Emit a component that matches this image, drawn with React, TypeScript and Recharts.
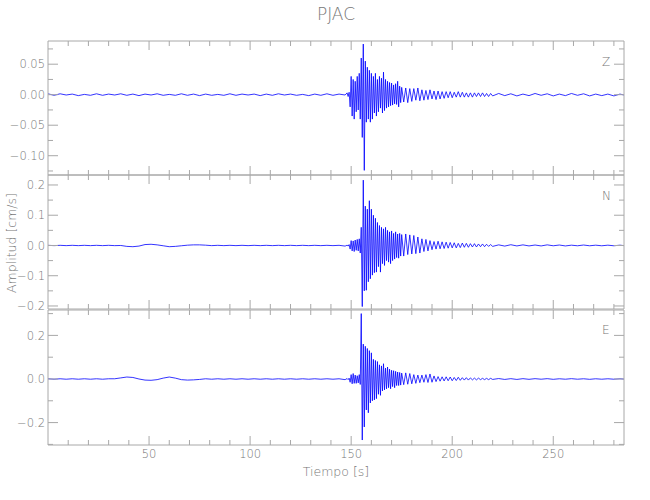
import React from "react";
import { LineChart, Line, XAxis, YAxis } from "recharts";

// sample times [s]
const tiempo = [
  0,3,6,9,12,15,18,21,24,27,30,33,36,39,42,45,48,51,54,57,60,63,66,69,72,75,78,81,84,87,90,93,96,99,102,105,108,111,114,117,120,123,126,129,132,135,138,141,144,147,
  148,148.5,149,149.5,150,150.5,151,151.5,152,152.5,153,153.5,154,154.5,155,155.5,156,156.5,157,157.5,158,158.5,159,159.5,160,160.5,161,161.5,162,162.5,163,163.5,164,164.5,165,165.5,166,166.5,167,167.5,168,168.5,169,169.5,170,170.5,171,171.5,172,172.5,173,173.5,174,174.5,175,
  176,177,178,179,180,181,182,183,184,185,186,187,188,189,190,191,192,193,194,195,196,197,198,199,200,201,202,203,204,205,206,207,208,209,210,211,212,213,214,215,216,217,218,219,220,
  223,226,229,232,235,238,241,244,247,250,253,256,259,262,265,268,271,274,277,280,283,285,
];

// Z component [cm/s]
const ampZ = [
  0.0015,-0.001,0.0015,-0.0005,0.001,-0.0015,0.0005,-0.001,0.0015,-0.001,
  0.001,-0.0005,0.0015,-0.001,0.001,-0.0015,0.001,-0.0005,0.0015,-0.001,
  0.0005,-0.001,0.0015,-0.001,0.001,-0.0015,0.001,-0.001,0.0005,-0.001,
  0.0015,-0.001,0.001,-0.0005,0.001,-0.0015,0.001,-0.001,0.0015,-0.0005,
  0.001,-0.001,0.0005,-0.0015,0.001,-0.001,0.0015,-0.001,0.001,-0.0005,
  0.003,-0.003,0.004,-0.02,0.03,-0.035,0.025,-0.04,0.022,-0.028,
  0.03,-0.025,0.035,-0.04,0.06,-0.07,0.083,-0.124,0.055,-0.045,
  0.045,-0.04,0.04,-0.045,0.035,-0.04,0.03,-0.03,0.035,-0.035,
  0.025,-0.028,0.03,-0.022,0.027,-0.03,0.037,-0.026,0.025,-0.022,
  0.022,-0.02,0.02,-0.018,0.019,-0.017,0.016,-0.015,0.018,-0.016,
  0.022,-0.02,0.014,-0.013,0.012,
  -0.012,0.011,-0.013,0.01,-0.011,0.01,-0.009,0.011,-0.01,0.008,
  -0.009,0.007,-0.008,0.008,-0.007,0.006,-0.008,0.006,-0.007,0.005,
  -0.006,0.005,-0.005,0.005,-0.005,0.004,-0.004,0.005,-0.004,0.004,
  -0.004,0.003,-0.004,0.003,-0.004,0.003,-0.003,0.003,-0.003,0.003,
  -0.003,0.002,-0.003,0.002,-0.002,
  0.002,-0.0015,0.0015,-0.002,0.001,-0.0015,0.002,-0.001,0.0015,-0.002,
  0.001,-0.0015,0.002,-0.001,0.0015,-0.002,0.001,-0.0015,0.001,-0.002,
  0.001,-0.0005,
];

// N component [cm/s]
const ampN = [
  0.0005,-0.0005,0.0005,-0.0005,0.0005,-0.0005,0.0005,-0.0005,0.0005,-0.0005,
  0.0005,-0.0005,0,-0.003,-0.004,-0.002,0.003,0.004,0.002,-0.001,
  -0.004,-0.003,-0.001,0.001,0.002,0.002,0.001,-0.0005,0.0005,-0.0005,
  0.0005,-0.0005,0.0005,-0.0005,0.0005,-0.0005,0.0005,-0.0005,0.0005,-0.0005,
  0.0005,-0.0005,0.0005,-0.0005,0.0005,-0.0005,0.0005,-0.0005,0.0005,-0.002,
  0.001,-0.002,0.003,-0.012,0.016,-0.018,0.015,-0.02,0.018,-0.016,
  0.02,-0.018,0.022,-0.025,0.06,-0.202,0.216,-0.15,0.13,-0.148,
  0.12,-0.12,0.148,-0.11,0.12,-0.098,0.1,-0.09,0.09,-0.088,
  0.076,-0.07,0.066,-0.088,0.06,-0.06,0.055,-0.066,0.06,-0.05,
  0.05,-0.055,0.045,-0.06,0.048,-0.05,0.04,-0.045,0.045,-0.04,
  0.038,-0.042,0.04,-0.035,0.036,
  -0.035,0.038,-0.03,0.035,-0.028,0.033,-0.027,0.028,-0.025,0.022,
  -0.02,0.02,-0.018,0.016,-0.014,0.013,-0.012,0.014,-0.011,0.012,
  -0.01,0.011,-0.009,0.01,-0.008,0.009,-0.008,0.007,-0.007,0.008,
  -0.006,0.007,-0.006,0.006,-0.005,0.006,-0.005,0.005,-0.004,0.005,
  -0.004,0.004,-0.003,0.003,-0.003,
  0.002,-0.002,0.0025,-0.0015,0.002,-0.0015,0.0015,-0.0015,0.002,-0.001,
  0.0015,-0.0015,0.001,-0.001,0.0015,-0.001,0.001,-0.001,0.001,-0.001,
  0.001,-0.0005,
];

// E component [cm/s]
const ampE = [
  0.001,-0.001,0.001,-0.001,0.001,-0.001,0.001,-0.001,0.001,-0.001,
  0.001,0.001,0.005,0.009,0.007,0,-0.005,-0.006,-0.003,0.004,
  0.009,0.004,-0.003,-0.005,-0.004,-0.002,0.001,-0.001,0.001,-0.001,
  0.001,-0.001,0.001,-0.001,0.001,-0.001,0.001,-0.001,0.001,-0.001,
  0.001,-0.001,0.001,-0.001,0.001,-0.001,0.001,-0.001,0.001,-0.003,
  0.002,-0.003,0.004,-0.015,0.02,-0.022,0.025,-0.02,0.018,-0.02,
  0.015,-0.018,0.02,-0.025,0.3,-0.28,0.16,-0.22,0.15,-0.142,
  0.14,-0.155,0.13,-0.11,0.12,-0.1,0.09,-0.096,0.085,-0.09,
  0.08,-0.07,0.065,-0.075,0.06,-0.055,0.07,-0.05,0.05,-0.045,
  0.055,-0.04,0.045,-0.045,0.04,-0.035,0.038,-0.04,0.035,-0.03,
  0.032,-0.03,0.03,-0.028,0.027,
  -0.026,0.028,-0.024,0.025,-0.022,0.02,-0.02,0.018,-0.017,0.018,
  -0.015,0.02,-0.016,0.023,-0.015,0.014,-0.012,0.011,-0.01,0.01,
  -0.009,0.01,-0.008,0.009,-0.008,0.007,-0.007,0.008,-0.006,0.006,
  -0.005,0.006,-0.005,0.005,-0.004,0.004,-0.004,0.004,-0.003,0.003,
  -0.003,0.003,-0.003,0.003,-0.002,
  0.002,-0.002,0.0015,-0.002,0.0015,-0.0015,0.0015,-0.001,0.0015,-0.0015,
  0.001,-0.001,0.0015,-0.001,0.001,-0.0015,0.001,-0.001,0.001,-0.001,
  0.001,-0.0005,
];

const xTicks = [10,20,30,40,50,60,70,80,90,100,110,120,130,140,150,160,170,180,190,200,210,220,230,240,250,260,270,280];
const xMajor = [50,100,150,200,250];

const zTicks = [0.075,0.05,0.025,0,-0.025,-0.05,-0.075,-0.1,-0.125];
const zMajor = [0.05,0,-0.05,-0.1];
const nTicks = [0.2,0.15,0.1,0.05,0,-0.05,-0.1,-0.15,-0.2];
const nMajor = [0.2,0.1,0,-0.1,-0.2];
const eTicks = [0.3,0.2,0.1,0,-0.1,-0.2,-0.3];
const eMajor = [0.2,0,-0.2];

const rows = tiempo.map((t, i) => ({ t, z: ampZ[i] ?? 0, n: ampN[i] ?? 0, e: ampE[i] ?? 0 }));

const AX = "#a8a8a8";
const TX = "#777777";
const FONT = "'DejaVu Sans', sans-serif";
const TRACE = "#0000ff";

const isIn = (arr: number[], v: number) => arr.some((a) => Math.abs(a - v) < 1e-9);
const fmtNum = (v: number, d: number) => (v < 0 ? "\u2212" : "") + Math.abs(v).toFixed(d);

const makeYTick = (side: "left" | "right", majors: number[], digits: number) => (props: any) => {
  const { x, y, payload } = props;
  const v = payload.value as number;
  const major = isIn(majors, v);
  const len = major ? 10 : 5;
  const dir = side === "left" ? 1 : -1;
  return (
    <g>
      <line x1={x} y1={y} x2={x + dir * len} y2={y} stroke={AX} strokeWidth={1} />
      {major && side === "left" ? (
        <text x={x - 3} y={y} dy="0.36em" textAnchor="end" fill={TX} fontSize={11.5} fontFamily={FONT} fontWeight={200}>
          {fmtNum(v, digits)}
        </text>
      ) : null}
    </g>
  );
};

const makeXTick = (side: "top" | "bottom", showLabel: boolean) => (props: any) => {
  const { x, y, payload } = props;
  const v = payload.value as number;
  const major = isIn(xMajor, v);
  const len = major ? 9 : 5;
  const dir = side === "top" ? 1 : -1;
  return (
    <g>
      <line x1={x} y1={y} x2={x} y2={y + dir * len} stroke={AX} strokeWidth={1} />
      {major && showLabel ? (
        <text x={x} y={y + 13} textAnchor="middle" fill={TX} fontSize={11.5} fontFamily={FONT} fontWeight={200}>
          {String(v)}
        </text>
      ) : null}
    </g>
  );
};

type PanelProps = {
  top: number;
  height: number;
  mTop: number;
  mBottom: number;
  dataKey: string;
  domain: [number, number];
  ticks: number[];
  majors: number[];
  digits: number;
  showX: boolean;
};

const Panel = ({ top, height, mTop, mBottom, dataKey, domain, ticks, majors, digits, showX }: PanelProps) => (
  <div style={{ position: "absolute", left: 0, top, width: 650, height }}>
    <LineChart width={650} height={height} data={rows} margin={{ top: mTop, right: 25, bottom: mBottom, left: 47 }}>
      <XAxis
        xAxisId="b"
        dataKey="t"
        type="number"
        domain={[0, 285]}
        allowDataOverflow
        ticks={xTicks}
        interval={0}
        height={1}
        orientation="bottom"
        tickSize={0}
        tickMargin={0}
        tickLine={false}
        axisLine={{ stroke: AX }}
        tick={makeXTick("bottom", showX)}
      />
      <XAxis
        xAxisId="t"
        dataKey="t"
        type="number"
        domain={[0, 285]}
        allowDataOverflow
        ticks={xTicks}
        interval={0}
        height={1}
        orientation="top"
        tickSize={0}
        tickMargin={0}
        tickLine={false}
        axisLine={{ stroke: AX }}
        tick={makeXTick("top", false)}
      />
      <YAxis
        yAxisId="l"
        type="number"
        domain={domain}
        allowDataOverflow
        ticks={ticks}
        interval={0}
        width={1}
        orientation="left"
        tickSize={0}
        tickMargin={0}
        tickLine={false}
        axisLine={{ stroke: AX }}
        tick={makeYTick("left", majors, digits)}
      />
      <YAxis
        yAxisId="r"
        type="number"
        domain={domain}
        allowDataOverflow
        ticks={ticks}
        interval={0}
        width={1}
        orientation="right"
        tickSize={0}
        tickMargin={0}
        tickLine={false}
        axisLine={{ stroke: AX }}
        tick={makeYTick("right", majors, digits)}
      />
      <Line
        xAxisId="b"
        yAxisId="l"
        type="linear"
        dataKey={dataKey}
        stroke={TRACE}
        strokeWidth={0.8}
        dot={false}
        activeDot={false}
        isAnimationActive={false}
      />
    </LineChart>
  </div>
);

const textStyle: React.CSSProperties = {
  position: "absolute",
  color: TX,
  fontFamily: FONT,
  fontWeight: 200,
  whiteSpace: "nowrap",
  lineHeight: 1,
};

export default function App() {
  return (
    <div style={{ position: "absolute", left: 0, top: 0, width: 650, height: 500, background: "#fff", overflow: "hidden" }}>
      <Panel top={0} height={185} mTop={40} mBottom={9} dataKey="z" domain={[-0.1316, 0.088]} ticks={zTicks} majors={zMajor} digits={2} showX={false} />
      <Panel top={165} height={155} mTop={9} mBottom={10} dataKey="n" domain={[-0.21, 0.233]} ticks={nTicks} majors={nMajor} digits={1} showX={false} />
      <Panel top={300} height={200} mTop={9} mBottom={54} dataKey="e" domain={[-0.3028, 0.3165]} ticks={eTicks} majors={eMajor} digits={1} showX={true} />

      <div style={{ ...textStyle, left: 0, width: 672, top: 6, textAlign: "center", fontSize: 17 }}>PJAC</div>
      <div style={{ ...textStyle, left: 0, width: 672, top: 466, textAlign: "center", fontSize: 12.5 }}>Tiempo [s]</div>
      <div
        style={{
          ...textStyle,
          left: 12,
          top: 243,
          fontSize: 12.5,
          transform: "translate(-50%, -50%) rotate(-90deg)",
        }}
      >
        Amplitud [cm/s]
      </div>
      <div style={{ ...textStyle, left: 602, top: 56, fontSize: 12 }}>Z</div>
      <div style={{ ...textStyle, left: 602, top: 190, fontSize: 12 }}>N</div>
      <div style={{ ...textStyle, left: 602, top: 324, fontSize: 12 }}>E</div>
    </div>
  );
}
